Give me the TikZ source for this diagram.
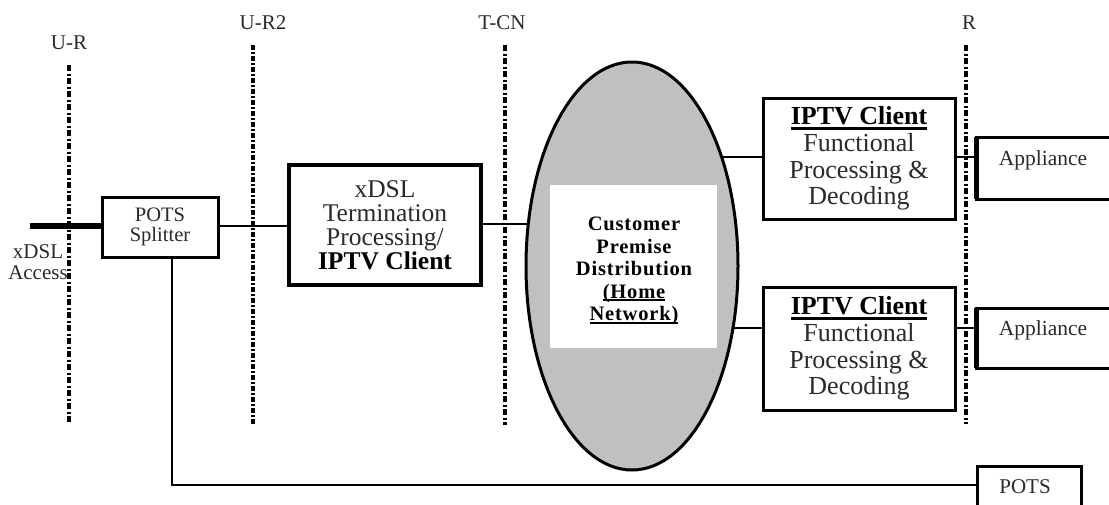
\documentclass[tikz,border=0pt]{standalone}
\usepackage{fontspec}
\setmainfont{Liberation Serif}
\usetikzlibrary{shapes.geometric,backgrounds}
\definecolor{cpgray}{HTML}{C0C0C0}
\definecolor{txtgray}{HTML}{2A2A2A}
% underline: #1 depth below baseline, #2 thickness, #3 text
\newcommand\ulbox[3]{\setbox0=\hbox{#3}\leavevmode\rlap{\raisebox{-#1}{\rule{\wd0}{#2}}}\box0}
\begin{document}
\begin{tikzpicture}[x=1pt,y=-1pt,
  every node/.style={inner sep=0pt,outer sep=0pt},
  box/.style={draw,rectangle,line width=3pt,fill=white,align=center,text=txtgray},
  conn/.style={line width=2.5pt},
  refline/.style={line width=3.2pt,dash pattern=on 6pt off 2.5pt on 2pt off 2.5pt},
  refdense/.style={line width=4pt,dash pattern=on 5pt off 2pt on 2pt off 2pt},
  lbl/.style={font=\fontsize{21}{21}\selectfont,text=txtgray,align=center},
  bigtxt/.style={font=\fontsize{26}{26.7}\selectfont},
]
\clip (0,0) rectangle (1109,504);

% reference point labels
\node[lbl] (lur)  at (69,43)  {U-R};
\node[lbl] (lur2) at (263,23) {U-R2};
\node[lbl] (ltcn) at (502,23) {T-CN};
\node[lbl] (lr)   at (969,23) {R};

% boxes
\node[box,minimum width=116pt,minimum height=60pt,font=\fontsize{20.5}{20}\selectfont] (spl) at (160,227) {POTS\\Splitter};
\node[box,line width=3.5pt,minimum width=192pt,minimum height=120pt,font=\fontsize{25.5}{24}\selectfont] (xdsl) at (385,225)
  {xDSL\\Termination\\Processing/\\{\color{black}\bfseries IPTV Client}};

\node[draw,ellipse,line width=3pt,fill=cpgray,minimum width=212pt,minimum height=408pt] (ell) at (632,266) {};
\node[rectangle,fill=white,minimum width=167pt,minimum height=163pt] (cpd) at (633.5,266.5) {};
\node[align=center,font=\fontsize{20.5}{22.5}\selectfont\bfseries\addfontfeature{LetterSpace=4}] (cpdt) at (634,271)
  {Customer\\Premise\\Distribution\\\ulbox{3pt}{2pt}{(Home}\\\ulbox{3pt}{2pt}{Network)}};

\node[box,bigtxt,minimum width=192pt,minimum height=121pt] (ip1) at (859,158.5)
  {{\color{black}\bfseries\ulbox{5pt}{3pt}{IPTV Client}}\\Functional\\Processing \&\\Decoding};
\node[box,bigtxt,minimum width=192pt,minimum height=123pt] (ip2) at (859,348.5)
  {{\color{black}\bfseries\ulbox{5pt}{3pt}{IPTV Client}}\\Functional\\Processing \&\\Decoding};

\node[box,minimum width=144pt,minimum height=62pt] (app1) at (1048,168) {};
\node[lbl,font=\fontsize{21.5}{22}\selectfont] (app1t) at (1043,160) {Appliance};
\draw[line width=5pt] (app1.north west) -- (app1.south west);
\node[box,minimum width=144pt,minimum height=60pt] (app2) at (1048,338) {};
\node[lbl,font=\fontsize{21.5}{22}\selectfont] (app2t) at (1043,330) {Appliance};
\draw[line width=5pt] (app2.north west) -- (app2.south west);

\node[box,minimum width=104pt,minimum height=54pt] (pots) at (1029,493) {};
\node[lbl] (potst) at (1025,487) {POTS};

\node[lbl] (acct) at (38,262) {xDSL\\Access};

% coordinates
\coordinate (acc) at (30,226);
\coordinate (potsturn) at (172,485);
\coordinate (urtop) at (69,65);   \coordinate (urbot) at (69,424);
\coordinate (ur2top) at (253,45); \coordinate (ur2bot) at (253,424);
\coordinate (tcntop) at (505,45); \coordinate (tcnbot) at (505,425);
\coordinate (rtop) at (966,45);   \coordinate (rbot) at (966,424);

% connectors (behind the shapes)
\begin{pgfonlayer}{background}
\draw[line width=6pt] (acc) -- (spl.west |- acc);
\draw[conn] (spl.east |- acc) -- (xdsl.west |- acc);
\draw[conn] (xdsl.east |- 0,224) -- (ell.center |- 0,224);
\draw[conn] (ell.center |- 0,157) -- (ip1.west |- 0,157);
\draw[conn] (ell.center |- 0,328) -- (ip2.west |- 0,328);
\draw[conn] (ip1.east |- 0,157) -- (app1.west |- 0,157);
\draw[conn] (ip2.east |- 0,328) -- (app2.west |- 0,328);
\draw[conn] (spl.south -| potsturn) -- (potsturn) -- (pots.west |- potsturn);
\end{pgfonlayer}

% reference lines
\draw[refline] (urtop) -- (urbot);
\draw[refdense] (ur2top) -- (ur2bot);
\draw[refline] (tcntop) -- (tcnbot);
\draw[refline] (rtop) -- (rbot);
\end{tikzpicture}
\end{document}
